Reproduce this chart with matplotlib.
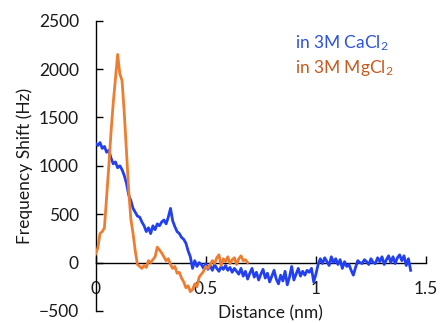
import matplotlib
matplotlib.use("Agg")
import matplotlib.pyplot as plt
import numpy as np

plt.rcParams['font.family'] = ['Lato', 'DejaVu Sans']
plt.rcParams['mathtext.fontset'] = 'custom'
plt.rcParams['mathtext.rm'] = 'Lato'
plt.rcParams['mathtext.it'] = 'Lato'

# Data
ca_distance = [round(0.01 * i, 2) for i in range(144)]
ca_shift = [1230, 1210, 1240, 1180, 1200, 1140, 1160, 1080, 1020, 1040,
            980, 1000, 960, 900, 820, 700, 640, 560, 520, 480,
            470, 420, 380, 320, 360, 300, 380, 340, 400, 380,
            420, 440, 400, 470, 560, 430, 370, 320, 300, 260,
            240, 200, 120, 60, -60, 20, -40, 0, -20, -60,
            -10, -70, -30, -80, -20, -60, -90, -40, -70, -30,
            -80, -50, -100, -60, -90, -120, -60, -140, -90, -170,
            -110, -60, -150, -100, -180, -120, -70, -160, -110, -200,
            -140, -80, -170, -220, -130, -190, -90, -230, -150, -40,
            -180, -120, -60, -140, -90, -130, -80, -100, -60, -200,
            -120, -20, 40, -10, 50, 10, -30, 60, 0, 40,
            -20, 30, -60, 10, -40, -20, -80, -130, -50, 20,
            0, -10, 30, 10, -20, 40, 0, -10, 50, 10,
            60, -20, 30, 70, 0, 60, -10, 50, 80, 20,
            70, -30, 40, -80]

mg_distance = [round(0.01 * i, 2) for i in range(70)]
mg_shift = [90, 150, 300, 320, 360, 680, 1000, 1350, 1650, 1900,
            2150, 1950, 1880, 1550, 1150, 750, 450, 300, 120, -20,
            -40, -60, -30, -50, 20, 0, 30, 60, 160, 130,
            100, 60, 20, 40, -20, -60, -40, -110, -100, -160,
            -200, -260, -240, -300, -280, -220, -250, -150, -120, -90,
            -40, -60, -20, 20, -10, 50, 80, -30, 40, 10,
            60, -10, 30, 50, -20, 40, 70, 20, 30, 0]

x_ticks = [0, 0.5, 1, 1.5]
x_tick_labels = ['0', '0.5', '1', '1.5']
y_ticks = [-500, 0, 500, 1000, 1500, 2000, 2500]

fig = plt.figure(figsize=(4.4, 3.23), dpi=100)
ax = fig.add_axes([0.2173, 0.0372, 0.751, 0.899])

blue = '#2340f0'
orange = '#ED7D31'
ax.plot(ca_distance, ca_shift, color=blue, lw=2.0, zorder=3)
ax.plot(mg_distance, mg_shift, color=orange, lw=2.0, zorder=4)

ax.set_xlim(0, 1.5)
ax.set_ylim(-500, 2500)
ax.set_xticks(x_ticks)
ax.set_xticklabels(x_tick_labels)
ax.set_yticks(y_ticks)

for s in ['top', 'right']:
    ax.spines[s].set_visible(False)
ax.spines['bottom'].set_position(('data', 0))
ax.spines['bottom'].set_linewidth(1.0)
ax.spines['left'].set_linewidth(1.0)
ax.spines['bottom'].set_zorder(2)

fs = 12.5
ax.tick_params(axis='x', direction='in', length=5, width=1, pad=13, labelsize=fs, labelcolor='#1a1a1a')
ax.tick_params(axis='y', direction='in', length=5, width=1, pad=12, labelsize=fs, labelcolor='#1a1a1a')

ax.set_xlabel('Distance (nm)', fontsize=fs, va='center', color='#1a1a1a')
ax.xaxis.set_label_coords(0.528, -0.007)
ax.set_ylabel('Frequency Shift (Hz)', fontsize=fs, va='center', color='#1a1a1a')
ax.yaxis.set_label_coords(-0.214, 0.5)

ax.text(0.6035, 0.923, 'in 3M CaCl$_2$', transform=ax.transAxes, color='#2E52E0',
        fontsize=fs, va='center', ha='left')
ax.text(0.6035, 0.837, 'in 3M MgCl$_2$', transform=ax.transAxes, color='#C65A1E',
        fontsize=fs, va='center', ha='left')

fig.savefig('out.png', dpi=100)
